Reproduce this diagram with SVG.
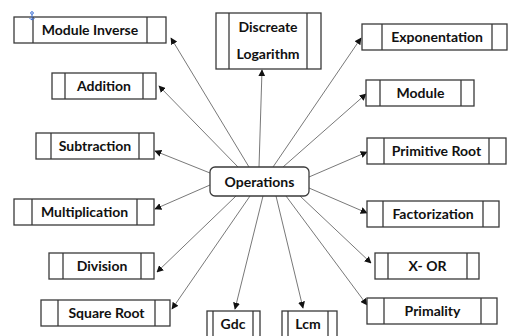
<svg xmlns="http://www.w3.org/2000/svg" width="509" height="336" viewBox="0 0 509 336">
<defs>
<style>
.box{fill:#fff;stroke:#3a3a3a;stroke-width:1.3}
.div{stroke:#3a3a3a;stroke-width:1.3}
.t{font-family:Lato,"Liberation Sans",sans-serif;font-weight:bold;font-size:14px;fill:#111;text-anchor:middle}
.c{stroke:#555;stroke-width:0.8;fill:none;marker-end:url(#ah)}
</style>
<marker id="ah" viewBox="0 0 10 10" refX="9" refY="5" markerWidth="7" markerHeight="7" markerUnits="userSpaceOnUse" orient="auto">
<path d="M0,0 L10,5 L0,10 z" fill="#111"/>
</marker>
</defs>
<rect width="509" height="336" fill="#fff"/>
<g id="connectors">
<line class="c" x1="249" y1="167" x2="171" y2="38"/>
<line class="c" x1="238" y1="167" x2="159" y2="86"/>
<line class="c" x1="259" y1="167" x2="262" y2="70"/>
<line class="c" x1="273" y1="167" x2="361" y2="38"/>
<line class="c" x1="283" y1="167" x2="366" y2="94"/>
<line class="c" x1="309" y1="177" x2="367" y2="152"/>
<line class="c" x1="309" y1="188" x2="367" y2="213"/>
<line class="c" x1="210" y1="173" x2="155" y2="151"/>
<line class="c" x1="210" y1="185" x2="155" y2="209"/>
<line class="c" x1="236" y1="196" x2="157" y2="272"/>
<line class="c" x1="250" y1="196" x2="172" y2="309"/>
<line class="c" x1="263" y1="196" x2="235" y2="309"/>
<line class="c" x1="276" y1="196" x2="303" y2="308"/>
<line class="c" x1="286" y1="196" x2="367" y2="305"/>
<line class="c" x1="300" y1="196" x2="371" y2="263"/>
</g>
<g id="operations">
<rect x="210" y="167" width="99" height="29" rx="5" class="box"/>
<text class="t" x="259.5" y="187">Operations</text>
</g>
<g id="module-inverse">
<rect class="box" x="14" y="17" width="152" height="26"/>
<line class="div" x1="33" y1="17" x2="33" y2="43"/><line class="div" x1="147" y1="17" x2="147" y2="43"/>
<text class="t" x="90" y="35">Module Inverse</text>
</g>
<g id="anchor-icon" stroke="#3b6fd6" stroke-width="1" fill="none">
<circle cx="32" cy="13" r="1.3"/><line x1="32" y1="14.3" x2="32" y2="20"/><path d="M29.5,18 Q32,21.5 34.5,18"/>
</g>
<g id="addition">
<rect class="box" x="52" y="73" width="104" height="26"/>
<line class="div" x1="65" y1="73" x2="65" y2="99"/><line class="div" x1="143" y1="73" x2="143" y2="99"/>
<text class="t" x="104" y="91">Addition</text>
</g>
<g id="discreate-logarithm">
<rect class="box" x="216" y="13" width="105" height="56"/>
<line class="div" x1="229" y1="13" x2="229" y2="69"/><line class="div" x1="307" y1="13" x2="307" y2="69"/>
<text class="t" x="268" y="32">Discreate</text>
<text class="t" x="268" y="59">Logarithm</text>
</g>
<g id="exponentation">
<rect class="box" x="362" y="24" width="145" height="26"/>
<line class="div" x1="382" y1="24" x2="382" y2="50"/><line class="div" x1="492" y1="24" x2="492" y2="50"/>
<text class="t" x="437" y="42">Exponentation</text>
</g>
<g id="module">
<rect class="box" x="366" y="80" width="108" height="26"/>
<line class="div" x1="380" y1="80" x2="380" y2="106"/><line class="div" x1="461" y1="80" x2="461" y2="106"/>
<text class="t" x="420.5" y="98">Module</text>
</g>
<g id="subtraction">
<rect class="box" x="36" y="133" width="118" height="26"/>
<line class="div" x1="51" y1="133" x2="51" y2="159"/><line class="div" x1="139" y1="133" x2="139" y2="159"/>
<text class="t" x="95" y="151">Subtraction</text>
</g>
<g id="primitive-root">
<rect class="box" x="367" y="138" width="139" height="26"/>
<line class="div" x1="384" y1="138" x2="384" y2="164"/><line class="div" x1="489" y1="138" x2="489" y2="164"/>
<text class="t" x="436.5" y="156">Primitive Root</text>
</g>
<g id="multiplication">
<rect class="box" x="14" y="199" width="140" height="26"/>
<line class="div" x1="32" y1="199" x2="32" y2="225"/><line class="div" x1="137" y1="199" x2="137" y2="225"/>
<text class="t" x="84.5" y="217">Multiplication</text>
</g>
<g id="factorization">
<rect class="box" x="367" y="201" width="132" height="26"/>
<line class="div" x1="383" y1="201" x2="383" y2="227"/><line class="div" x1="483" y1="201" x2="483" y2="227"/>
<text class="t" x="433" y="219">Factorization</text>
</g>
<g id="division">
<rect class="box" x="49" y="253" width="105" height="26"/>
<line class="div" x1="63" y1="253" x2="63" y2="279"/><line class="div" x1="141" y1="253" x2="141" y2="279"/>
<text class="t" x="102" y="271">Division</text>
</g>
<g id="x-or">
<rect class="box" x="375" y="253" width="104" height="26"/>
<line class="div" x1="388" y1="253" x2="388" y2="279"/><line class="div" x1="467" y1="253" x2="467" y2="279"/>
<text class="t" x="427.5" y="271">X- OR</text>
</g>
<g id="square-root">
<rect class="box" x="41" y="300" width="129" height="26"/>
<line class="div" x1="58" y1="300" x2="58" y2="326"/><line class="div" x1="155" y1="300" x2="155" y2="326"/>
<text class="t" x="106.5" y="318">Square Root</text>
</g>
<g id="primality">
<rect class="box" x="367" y="298" width="130" height="26"/>
<line class="div" x1="384" y1="298" x2="384" y2="324"/><line class="div" x1="481" y1="298" x2="481" y2="324"/>
<text class="t" x="432.5" y="316">Primality</text>
</g>
<g id="gdc">
<rect class="box" x="207" y="311" width="53" height="30"/>
<line class="div" x1="213" y1="311" x2="213" y2="341"/><line class="div" x1="253" y1="311" x2="253" y2="341"/>
<text class="t" x="233" y="329">Gdc</text>
</g>
<g id="lcm">
<rect class="box" x="282" y="311" width="55" height="30"/>
<line class="div" x1="288" y1="311" x2="288" y2="341"/><line class="div" x1="328" y1="311" x2="328" y2="341"/>
<text class="t" x="308" y="329">Lcm</text>
</g>
</svg>
